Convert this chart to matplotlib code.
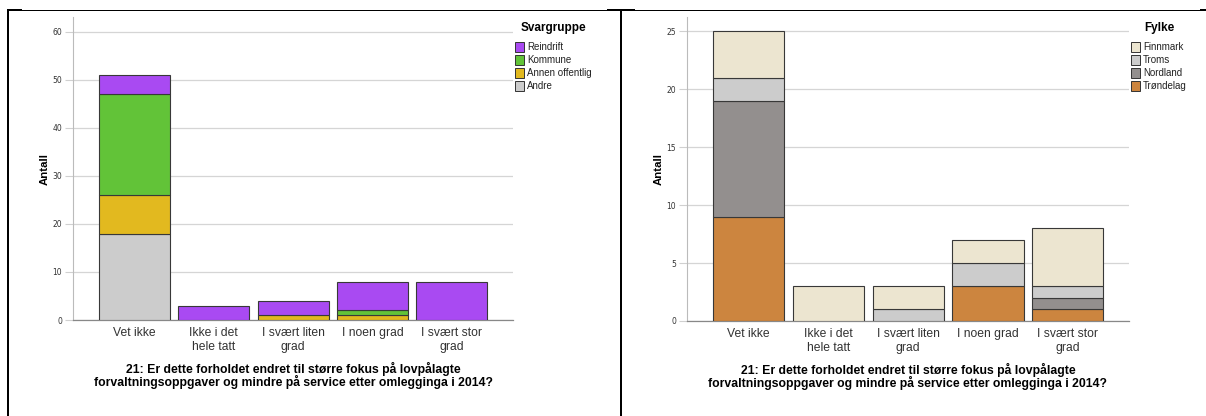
import matplotlib.pyplot as plt
from matplotlib.patches import Rectangle
from matplotlib.lines import Line2D
import numpy as np

W, H = 1206, 416

categories = ['Vet ikke', 'Ikke i det\nhele tatt', 'I svært liten\ngrad', 'I noen grad', 'I svært stor\ngrad']
question = '21: Er dette forholdet endret til større fokus på lovpålagte\nforvaltningsoppgaver og mindre på service etter omlegginga i 2014?'

# Svargruppe (left chart), stacked from the bottom
andre = [18, 0, 0, 0, 0]
annen_offentlig = [8, 0, 1, 1, 0]
kommune = [21, 0, 0, 1, 0]
reindrift = [4, 3, 3, 6, 8]

# Fylke (right chart), stacked from the bottom
trondelag = [9, 0, 0, 3, 1]
nordland = [10, 0, 0, 0, 1]
troms = [2, 0, 1, 2, 1]
finnmark = [4, 3, 2, 2, 5]

left_series = [('Andre', andre, '#cccccc'),
               ('Annen offentlig', annen_offentlig, '#e2b91f'),
               ('Kommune', kommune, '#62c338'),
               ('Reindrift', reindrift, '#a94af2')]
right_series = [('Trøndelag', trondelag, '#cc853f'),
                ('Nordland', nordland, '#938f8e'),
                ('Troms', troms, '#cccccc'),
                ('Finnmark', finnmark, '#ece5d0')]

NARROW = ['Liberation Sans Narrow', 'Liberation Sans', 'DejaVu Sans']
BOLD = ['Liberation Sans', 'DejaVu Sans']

fig = plt.figure(figsize=(W / 100, H / 100), dpi=100)


def fx(x):
    return x / W


def fy(y):
    return 1 - y / H


def px_line(x0, y0, x1, y1, lw):
    fig.add_artist(Line2D([fx(x0), fx(x1)], [fy(y0), fy(y1)], color='black',
                          linewidth=lw * 0.72, transform=fig.transFigure,
                          solid_capstyle='butt'))


def draw_chart(x0, x1, y_top, y_bot, series, ymax, yticks, legend_title, legend_x, title_cx):
    ax = fig.add_axes([fx(x0), fy(y_bot), fx(x1 - x0), (y_bot - y_top) / H])
    x = np.arange(len(categories))
    bottom = np.zeros(len(categories))
    for name, vals, color in series:
        vals = np.array(vals, dtype=float)
        mask = vals > 0
        ax.bar(x[mask], vals[mask], bottom=bottom[mask], width=0.894,
               color=color, edgecolor='#383838', linewidth=0.8, zorder=3)
        bottom += vals
    ax.set_xlim(-0.775, 4.77)
    ax.set_ylim(0, ymax)
    ax.set_yticks(yticks)
    ax.set_xticks(x)
    ax.set_xticklabels(categories, fontsize=8.7, family=NARROW, color='#333333',
                       linespacing=1.2)
    ax.tick_params(axis='x', length=0, pad=5)
    ax.tick_params(axis='y', length=6, color='#d0d0d0', labelsize=5.5,
                   labelcolor='#333333', pad=2)
    ax.grid(axis='y', color='#d5d5d5', linewidth=0.9, zorder=0)
    for s in ['top', 'right']:
        ax.spines[s].set_visible(False)
    ax.spines['left'].set_color('#bbbbbb')
    ax.spines['bottom'].set_color('#888888')
    ax.spines['left'].set_linewidth(0.8)
    ax.spines['bottom'].set_linewidth(0.9)
    ax.set_ylabel('Antall', fontsize=8.2, fontweight='bold', family=BOLD, labelpad=2)
    ax.set_xlabel(question, fontsize=8.8, fontweight='bold', family=BOLD,
                  labelpad=6.5, linespacing=0.92)

    # legend, drawn top entry first
    fig.text(fx(title_cx), fy(28), legend_title, fontsize=8.5, fontweight='bold',
             family=BOLD, va='center', ha='center')
    for i, (name, vals, color) in enumerate(reversed(series)):
        yc = 47 + i * 13
        fig.add_artist(Rectangle((fx(legend_x), fy(yc + 4.5)), fx(9), 9 / H,
                                 facecolor=color, edgecolor='#333333', linewidth=0.7,
                                 transform=fig.transFigure))
        fig.text(fx(legend_x + 12), fy(yc), name, fontsize=7, family=NARROW,
                 color='#222222', va='center', ha='left')
    return ax


draw_chart(73, 513, 17, 320, left_series, 63.1, [0, 10, 20, 30, 40, 50, 60],
           'Svargruppe', 515, 553)
draw_chart(687, 1129, 17, 321, right_series, 26.25, [0, 5, 10, 15, 20, 25],
           'Fylke', 1131, 1159)

# page frame lines
px_line(7, 10, 1206, 10, 1)
px_line(8, 10, 8, 416, 2)
px_line(621, 10, 621, 416, 2)
px_line(7, 10, 22, 10, 2)
px_line(607, 10, 635, 10, 2)
px_line(1200, 10, 1206, 10, 2)

fig.savefig('out.png', dpi=100)
